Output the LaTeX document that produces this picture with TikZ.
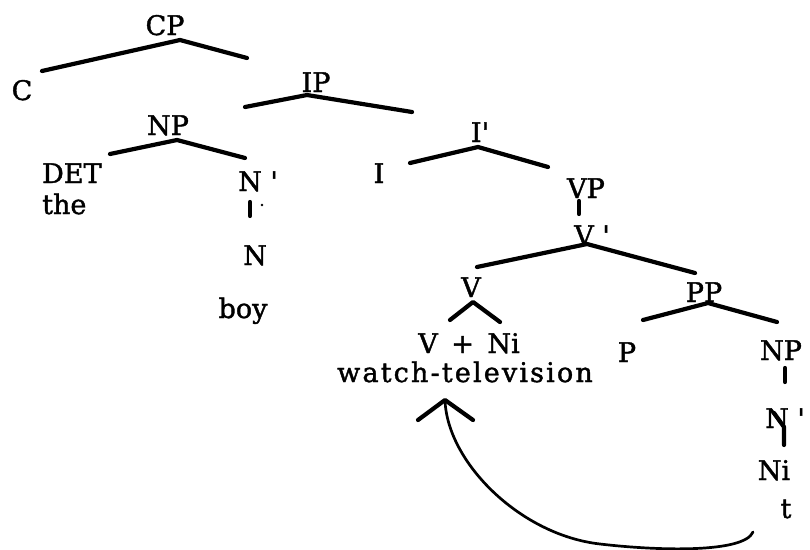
\documentclass[tikz,border=0pt]{standalone}
\usepackage{fontspec}
\setmainfont{DejaVu Serif}[FakeBold=1.5]
\usetikzlibrary{arrows.meta}
\begin{document}
\begin{tikzpicture}[x=1pt,y=-1pt,
  lab/.style={anchor=base, inner sep=0pt, font=\fontsize{27}{32}\selectfont},
  branch/.style={line width=4.2pt, line cap=round, line join=round},
  move/.style={line width=2.7pt, line cap=round}]
\useasboundingbox (0,0) rectangle (810,549);

% category labels
\node[lab] (cp) at (165,35) {CP};
\node[lab] (c) at (22,100) {C};
\node[lab] (ip) at (316,92) {IP};
\node[lab] (np1) at (168,135) {NP};
\node[lab, anchor=base west] (det) at (42,183) {DET};
\node[lab, anchor=base west] (the) at (42,214) {the};
\node[lab, anchor=base west] (nbar1) at (238,191) {N \textquotesingle};
\node[lab] (n1) at (255,265) {N};
\node[lab] (boy) at (243,318) {boy};
\node[lab] (i) at (379,183) {I};
\node[lab] (ibar) at (480,142) {I\textquotesingle};
\node[lab] (vp) at (586,198) {VP};
\node[lab] (vbar) at (592,245) {V \textquotesingle};
\node[lab] (v) at (471,297) {V};
\node[lab] (vni) at (469,353) {V\enspace+\enspace Ni};
\node[lab, font=\fontsize{27}{32}\selectfont\addfontfeatures{LetterSpace=8}] (tv) at (465,382) {watch-television};
\node[lab] (pp) at (704,302) {PP};
\node[lab] (p) at (627,362) {P};
\node[lab] (np2) at (781,360) {NP};
\node[lab, anchor=base west] (nbar2) at (765,428) {N \textquotesingle};
\node[lab] (ni) at (774,480) {Ni};
\node[lab] (t) at (786,518) {t};

% branch end points
\coordinate (cpA) at (180,40);  \coordinate (cpL) at (42,71);   \coordinate (cpR) at (247,58);
\coordinate (ipA) at (307,95);  \coordinate (ipL) at (245,107); \coordinate (ipR) at (412,112);
\coordinate (npA) at (177,140); \coordinate (npL) at (110,154); \coordinate (npR) at (245,158);
\coordinate (ibA) at (478,147); \coordinate (ibL) at (410,163); \coordinate (ibR) at (548,167);
\coordinate (vbA) at (587,244); \coordinate (vbL) at (477,267); \coordinate (vbR) at (695,273);
\coordinate (vA) at (473,302);  \coordinate (vL) at (450,320);  \coordinate (vR) at (500,322);
\coordinate (ppA) at (708,303); \coordinate (ppL) at (643,320); \coordinate (ppR) at (777,322);

% branches
\draw[branch] (cpL) -- (cpA) -- (cpR);
\draw[branch] (ipL) -- (ipA) -- (ipR);
\draw[branch] (npL) -- (npA) -- (npR);
\draw[branch] (ibL) -- (ibA) -- (ibR);
\draw[branch] (vbL) -- (vbA) -- (vbR);
\draw[branch] (vL) -- (vA) -- (vR);
\draw[branch] (ppL) -- (ppA) -- (ppR);

% unary stems
\coordinate (s1a) at (250,202); \coordinate (s1b) at (250,216);
\draw[branch] (s1a) -- (s1b);
\fill (262,205) circle (1.4pt);
\coordinate (s2a) at (579,201); \coordinate (s2b) at (579,214);
\draw[branch] (s2a) -- (s2b);
\coordinate (s3a) at (785,368); \coordinate (s3b) at (785,382);
\draw[branch] (s3a) -- (s3b);
\coordinate (s4a) at (774,413); \coordinate (s4m) at (784,427); \coordinate (s4b) at (784,445);
\draw[branch] (s4a) -- (s4m) -- (s4b);

% movement arrow from the trace back to the verb
\coordinate (trace) at (753,532);
\coordinate (land) at (445,400);
\draw[move] (trace) .. controls (744,553) and (660,551) .. (600,544)
  .. controls (520,535) and (447,462) .. (land);
\draw[branch] (land) ++(-27,20) -- (land) -- ++(28,20);
\end{tikzpicture}
\end{document}
